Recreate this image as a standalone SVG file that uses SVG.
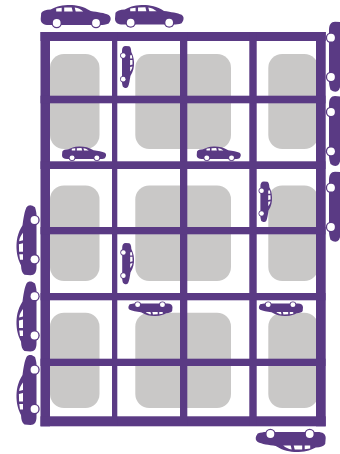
<svg xmlns="http://www.w3.org/2000/svg" width="340" height="454" viewBox="0 0 340 454">
<style>
.lot{fill:#c9c8c7}
.road{fill:#5a3a84}
.body{fill:#5a3a84}
.hole{fill:#fff}
</style>
<defs>
<g id="car">
<path class="body" d="M.5,8C2,5.500 5,4.800 10,4.500C14,2.500 19,.3 27,0C35,-.2 42,1 50,6C57,7 64,8 68,10C70,11.500 70.500,13.500 69.500,16L68,18.500C65,19.500 62,20 60,20L8,20C3,20 0,18 0,14Z"/>
<circle class="body" cx="16" cy="18" r="5.200"/>
<circle class="body" cx="55.300" cy="18" r="5.200"/>
<circle class="hole" cx="16" cy="18" r="3.900"/>
<circle class="hole" cx="55.300" cy="18" r="3.900"/>
<path class="hole" d="M15.500,3.500L21,2.800L21,6.500L15.500,6.500ZM23.500,2.600L31,2.400L32,6.500L23.500,6.500ZM34,2.600C37.500,3 40,4.500 42.500,6.500L35,6.500Z"/>
</g>
</defs>
<rect width="340" height="454" fill="#fff"/>
<g id="lots">
<rect class="lot" x="50" y="54" width="49.500" height="95" rx="14"/>
<rect class="lot" x="135.300" y="54" width="95.700" height="95" rx="14"/>
<rect class="lot" x="268.300" y="54" width="50" height="95" rx="14"/>
<rect class="lot" x="50" y="185.500" width="49.500" height="95.500" rx="14"/>
<rect class="lot" x="135.300" y="185.500" width="95.700" height="95.500" rx="14"/>
<rect class="lot" x="268.300" y="185.500" width="50" height="95.500" rx="14"/>
<rect class="lot" x="50" y="312.700" width="49.500" height="95.300" rx="14"/>
<rect class="lot" x="135.300" y="312.700" width="95.700" height="95.300" rx="14"/>
<rect class="lot" x="268.300" y="312.700" width="50" height="95.300" rx="14"/>
</g>
<g id="roads">
<rect class="road" x="40.500" y="32" width="9.500" height="394.300"/>
<rect class="road" x="316" y="32" width="9.700" height="394.300"/>
<rect class="road" x="40.500" y="32" width="285.200" height="9"/>
<rect class="road" x="40.500" y="416.300" width="285.200" height="10"/>
<rect class="road" x="112" y="32" width="5.300" height="394"/>
<rect class="road" x="180" y="32" width="7.300" height="394"/>
<rect class="road" x="249.300" y="32" width="7.400" height="394"/>
<rect class="road" x="40.500" y="95.700" width="285" height="7.600"/>
<rect class="road" x="40.500" y="161.300" width="285" height="7.700"/>
<rect class="road" x="40.500" y="227" width="285" height="7.300"/>
<rect class="road" x="40.500" y="293" width="285" height="7.300"/>
<rect class="road" x="40.500" y="358.700" width="285" height="7.300"/>
</g>
<g id="cars">
<use id="car-top-1" href="#car" transform="translate(40.700 5)"/>
<use id="car-top-2" href="#car" transform="translate(115 5) scale(.98)"/>
<use id="car-small-1" href="#car" transform="translate(62 146.500) scale(.63)"/>
<use id="car-small-2" href="#car" transform="translate(196.700 146.500) scale(.63)"/>
<use id="car-vert-1" href="#car" transform="translate(134 46) rotate(90) scale(.6)"/>
<use id="car-vert-2" href="#car" transform="translate(134 243) rotate(90) scale(.59)"/>
<use id="car-vert-3" href="#car" transform="translate(272 181.500) rotate(90) scale(.58)"/>
<use id="car-left-1" href="#car" transform="translate(16.500 275.300) rotate(-90)"/>
<use id="car-left-2" href="#car" transform="translate(16.500 351.500) rotate(-90)"/>
<use id="car-left-3" href="#car" transform="translate(16.500 425) rotate(-90)"/>
<use id="car-right-1" href="#car" transform="translate(349 21.700) rotate(90)"/>
<use id="car-right-2" href="#car" transform="translate(349 96) rotate(90)"/>
<use id="car-right-3" href="#car" transform="translate(349 171.700) rotate(90)"/>
<use id="car-bottom" href="#car" transform="translate(325.700 452) rotate(180)"/>
<use id="car-flip-1" href="#car" transform="translate(172.500 316) rotate(180) scale(.63)"/>
<use id="car-flip-2" href="#car" transform="translate(303 316) rotate(180) scale(.63)"/>
</g>
</svg>
